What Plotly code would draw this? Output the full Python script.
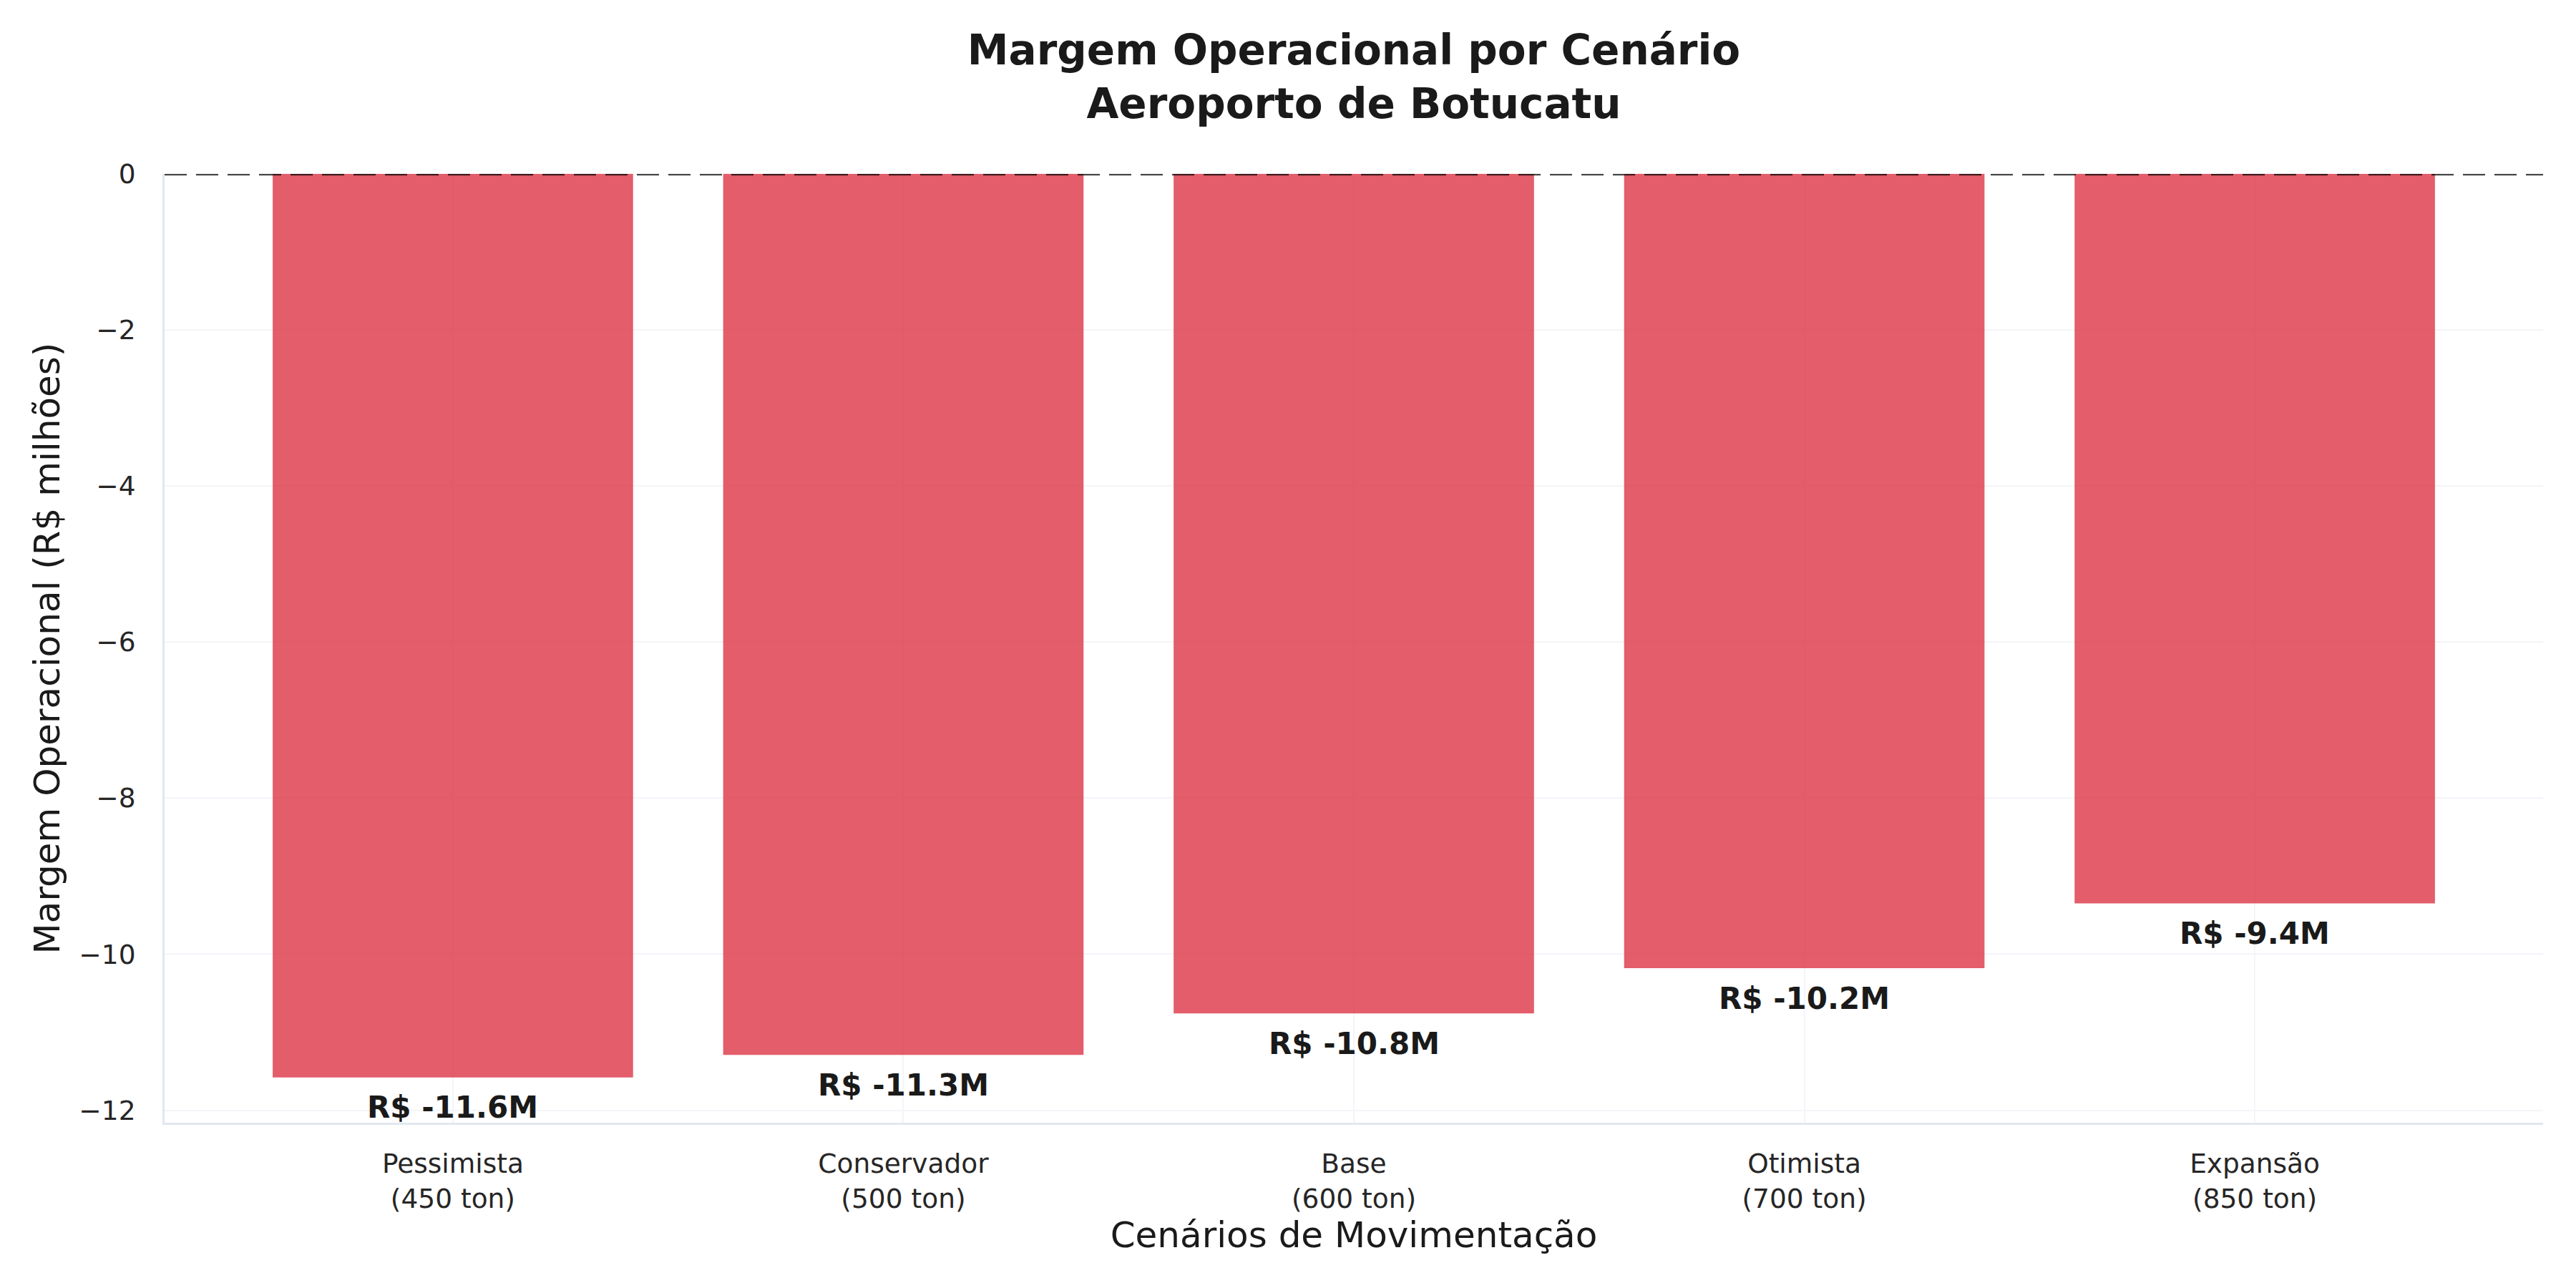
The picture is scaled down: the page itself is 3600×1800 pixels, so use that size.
import plotly.graph_objects as go

# dados
cenarios = ["Pessimista", "Conservador", "Base", "Otimista", "Expansão"]
toneladas = [450, 500, 600, 700, 850]
margem = [-11.58, -11.29, -10.76, -10.18, -9.35]
rotulos = ["R$ -11.6M", "R$ -11.3M", "R$ -10.8M", "R$ -10.2M", "R$ -9.4M"]
y_ticks = [0, -2, -4, -6, -8, -10, -12]
y_tick_labels = ["0", "\u22122", "\u22124", "\u22126", "\u22128", "\u221210", "\u221212"]

x_labels = [f"{c}<br>({t} ton)" for c, t in zip(cenarios, toneladas)]

fig = go.Figure()

fig.add_trace(go.Bar(
    x=x_labels,
    y=margem,
    width=0.8,
    marker=dict(color="rgba(220,53,69,0.8)", line=dict(width=0)),
    showlegend=False,
))

# rótulos de valor abaixo de cada barra
for xl, val, txt in zip(x_labels, margem, rotulos):
    fig.add_annotation(
        x=xl, y=val, text=f"<b>{txt}</b>",
        showarrow=False, yanchor="middle", yshift=-42,
        font=dict(size=42, color="#1a1a1a", family="DejaVu Sans"),
    )

# linha tracejada em zero
fig.add_shape(
    type="line", xref="paper", x0=0, x1=1, yref="y", y0=0, y1=0,
    line=dict(color="rgba(0,0,0,0.72)", width=4.3, dash="31px,13px"),
    layer="above",
)

# a página tem 8px de margem no body, por isso 3592x1792
fig.update_layout(
    width=3592,
    height=1792,
    paper_bgcolor="white",
    plot_bgcolor="white",
    font=dict(family="DejaVu Sans", color="#1a1a1a"),
    margin=dict(l=222, r=46, t=235, b=231),
    title=dict(
        text="<b>Margem Operacional por Cenário<br>Aeroporto de Botucatu</b>",
        x=0.5245, xanchor="center",
        y=0.9545, yanchor="top", yref="container",
        font=dict(size=58, color="#1a1a1a"),
    ),
)

fig.update_xaxes(
    type="category",
    range=[-0.64, 4.64],
    showline=True, linecolor="#e2e8f0", linewidth=3,
    showgrid=True, gridcolor="#f3f5f9", gridwidth=2,
    ticks="", ticklabelstandoff=22,
    tickfont=dict(size=37.5, color="#262626"),
    title=dict(text="Cenários de Movimentação", font=dict(size=50, color="#1a1a1a"), standoff=12),
    automargin=False,
)

fig.update_yaxes(
    range=[-12.16, 0],
    tickvals=y_ticks, ticktext=y_tick_labels,
    showline=True, linecolor="#e2e8f0", linewidth=3,
    showgrid=True, gridcolor="#f3f5f9", gridwidth=2,
    zeroline=False,
    ticks="", ticklabelstandoff=30,
    tickfont=dict(size=37.5, color="#262626"),
    title=dict(text="Margem Operacional (R$ milhões)", font=dict(size=50, color="#1a1a1a"), standoff=11),
    automargin=False,
)

fig.write_html("out.html")
